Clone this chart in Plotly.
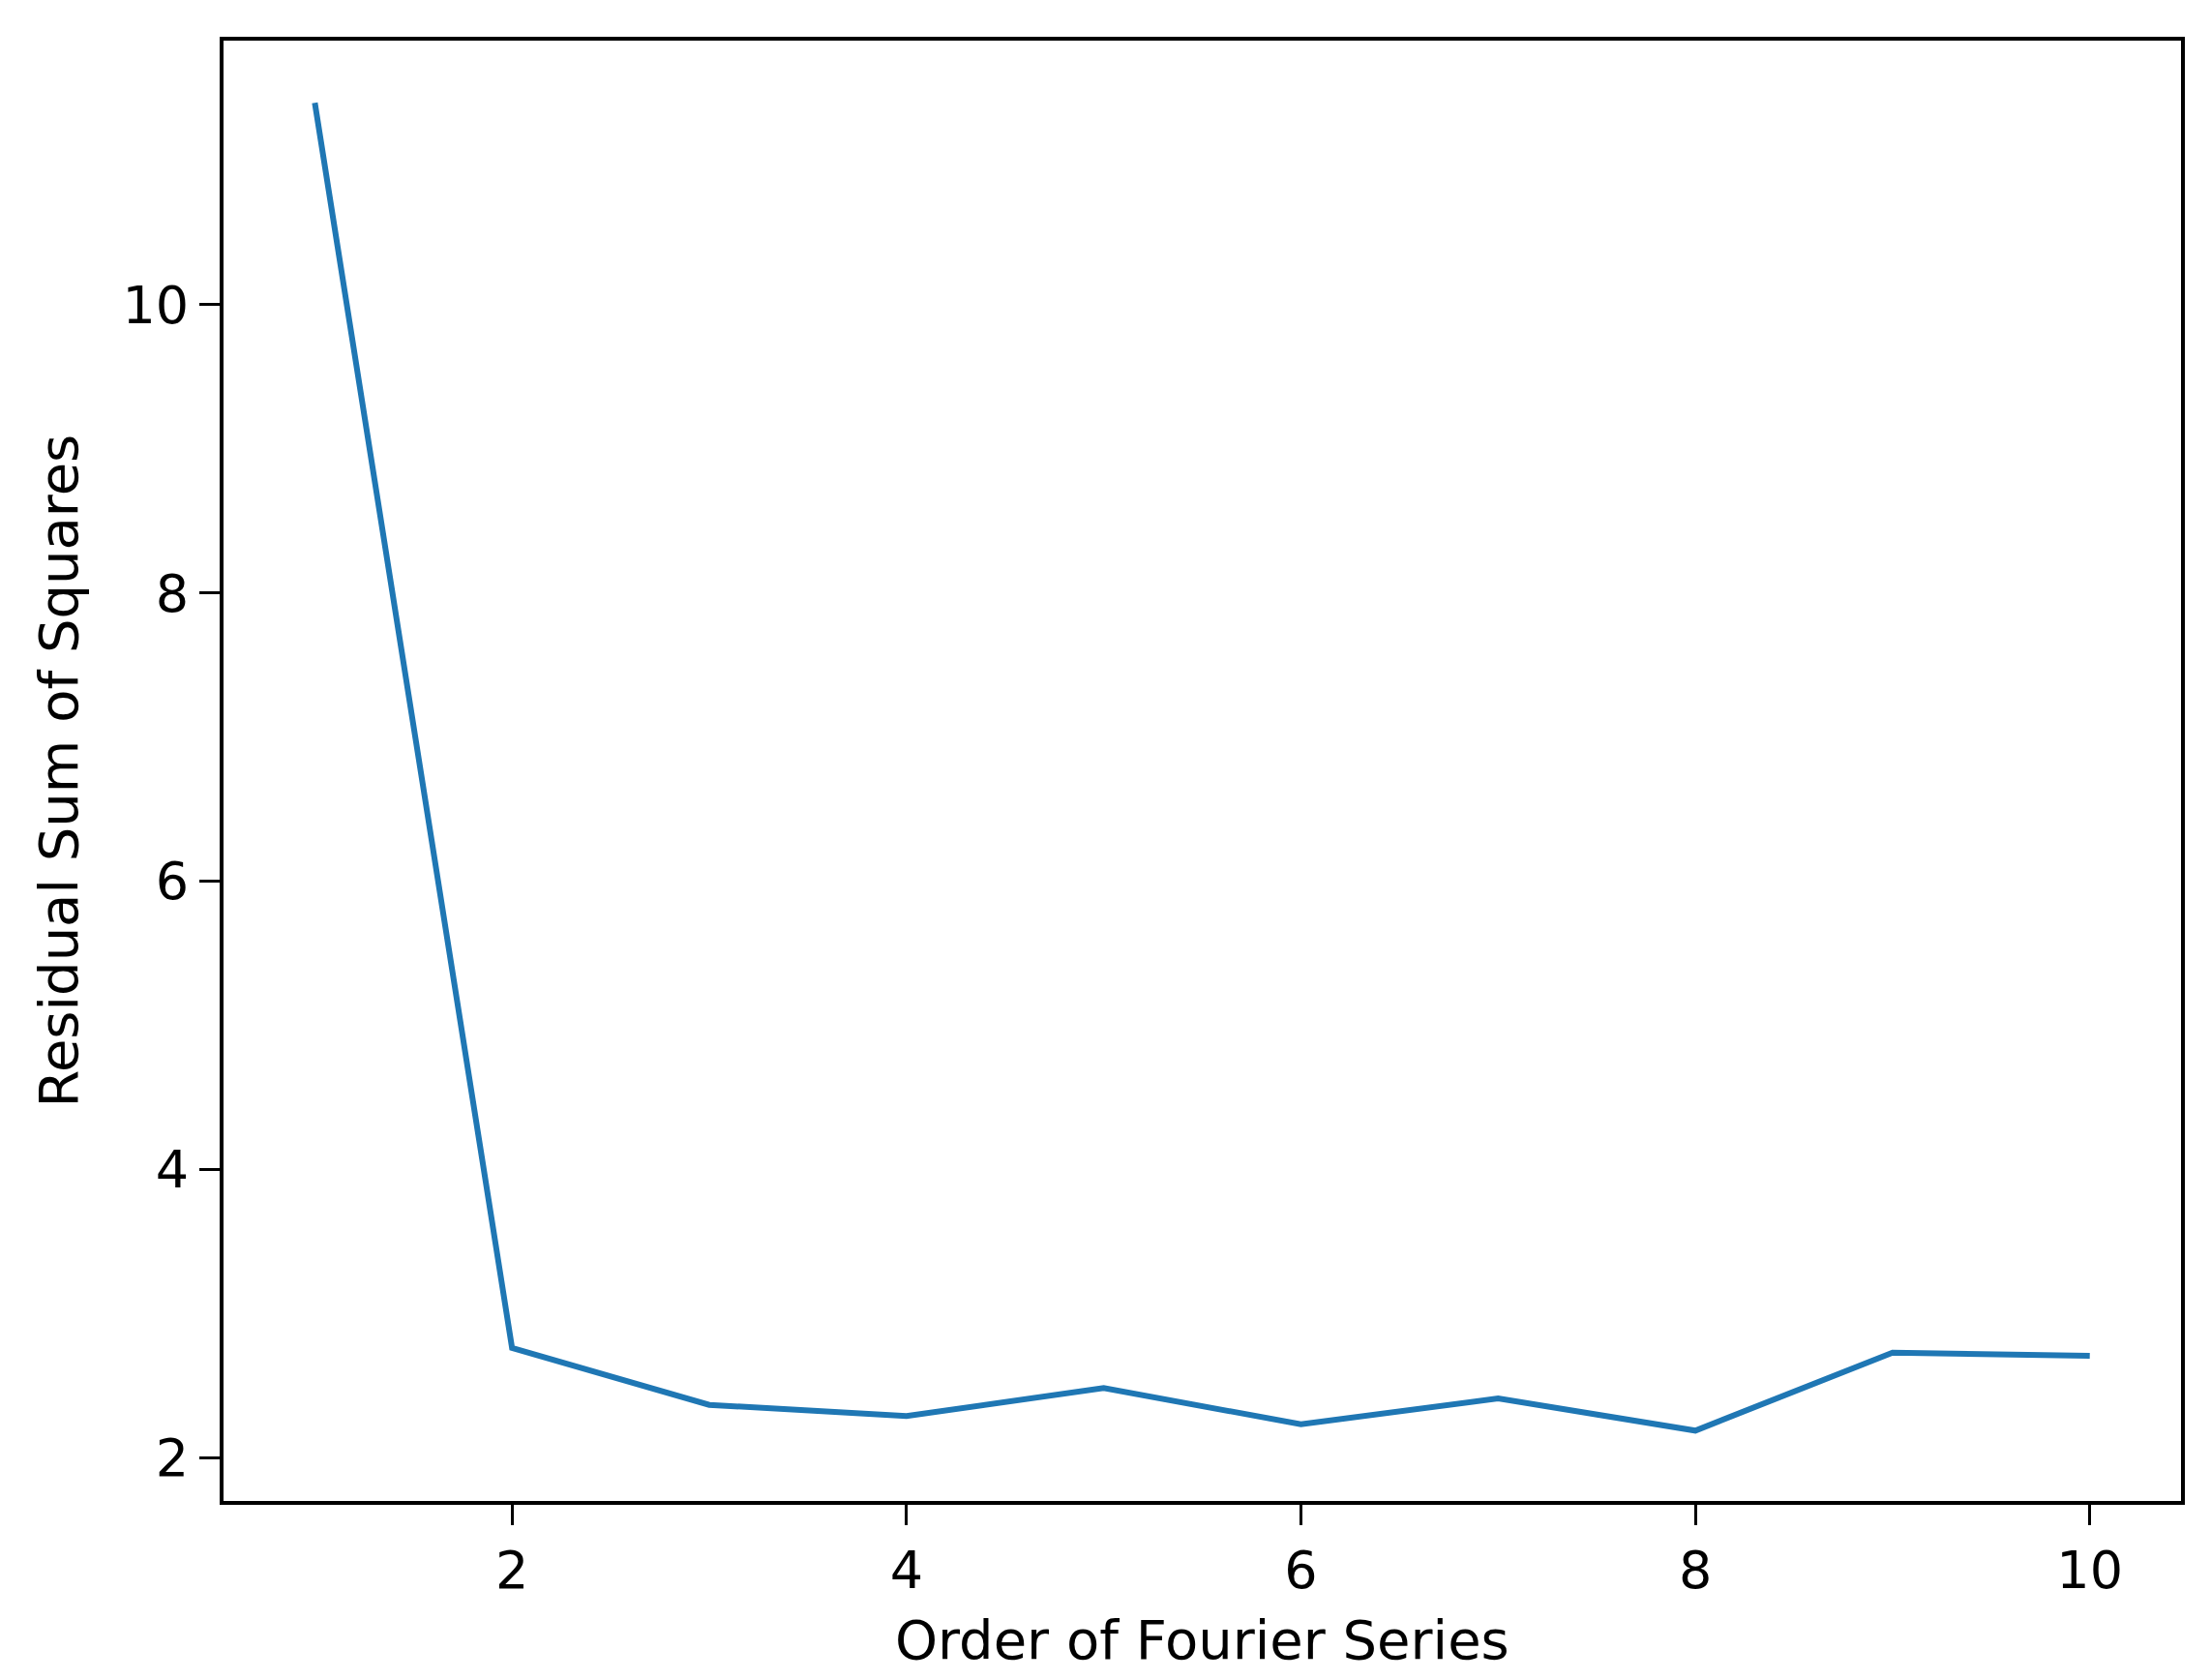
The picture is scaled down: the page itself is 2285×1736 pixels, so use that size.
import plotly.graph_objects as go

order = [1, 2, 3, 4, 5, 6, 7, 8, 9, 10]
rss = [11.40, 2.76, 2.365, 2.287, 2.482, 2.230, 2.410, 2.186, 2.727, 2.705]
x_ticks = [2, 4, 6, 8, 10]
y_ticks = [2, 4, 6, 8, 10]

W, H = 2285, 1736
OFF = 8  # browser default body margin
L, R, T, B = 231 - OFF, 31 + OFF, 42 - OFF, 185 + OFF
PL, PR, PT, PB = 231, 2254, 42, 1551  # plot-area edges in page pixels
FONT = "DejaVu Sans"
FS = 54
FT = 56

fig = go.Figure()
fig.add_trace(go.Scatter(x=order, y=rss, mode="lines",
                         line=dict(color="#1f77b4", width=6), showlegend=False))

axis_common = dict(showline=True, mirror=True, linecolor="black", linewidth=4,
                   ticks="outside", ticklen=21, tickwidth=3, tickcolor="black",
                   showgrid=False, zeroline=False,
                   tickfont=dict(family=FONT, size=FS, color="black"))

fig.update_xaxes(range=[0.537, 10.4625], tickvals=x_ticks,
                 ticktext=[str(v) for v in x_ticks], **axis_common)
fig.update_yaxes(range=[1.698, 11.832], tickvals=y_ticks,
                 ticktext=[str(v) for v in y_ticks], **axis_common)

fig.update_layout(
    width=W, height=H,
    margin=dict(l=L, r=R, t=T, b=B, pad=0),
    paper_bgcolor="white", plot_bgcolor="white",
    font=dict(family=FONT, size=FS, color="black"),
    annotations=[
        dict(text="Order of Fourier Series", xref="paper", yref="paper",
             x=0.5, y=-(1695 - PB) / (PB - PT), xanchor="center", yanchor="middle",
             showarrow=False, font=dict(family=FONT, size=FT, color="black")),
        dict(text="Residual Sum of Squares", xref="paper", yref="paper",
             x=-(PL - 60) / (PR - PL), y=0.5, xanchor="center", yanchor="middle",
             textangle=-90, showarrow=False,
             font=dict(family=FONT, size=FT, color="black")),
    ],
)

fig.write_html("out.html")
